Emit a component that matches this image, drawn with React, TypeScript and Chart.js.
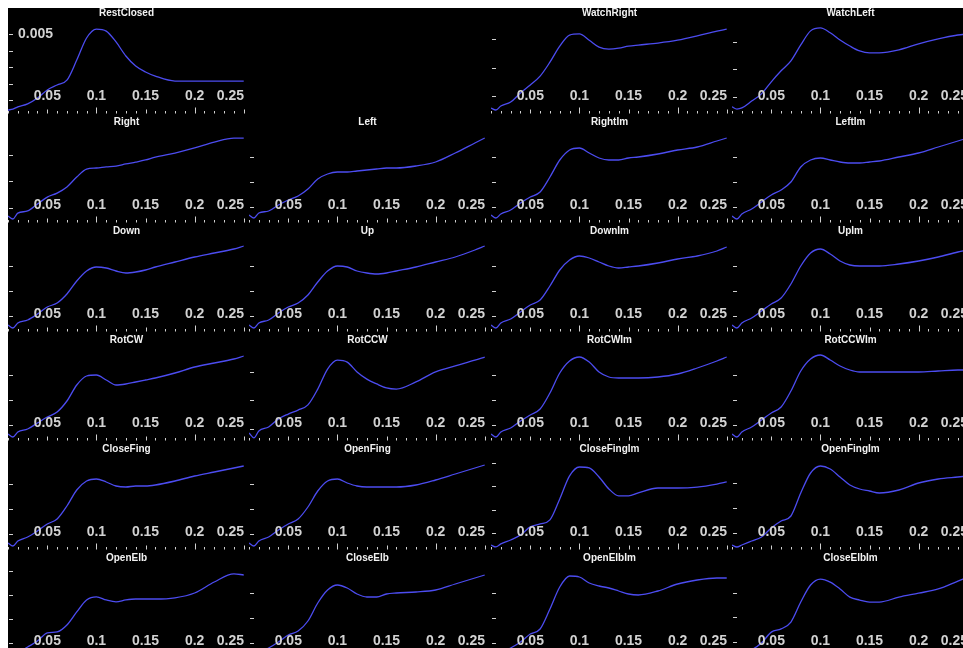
import { useEffect, useRef } from 'react';
import { Chart, registerables } from 'chart.js';

Chart.register(...registerables);

// Frequency samples shared by every spectrum
const FREQ = [0.01, 0.015, 0.02, 0.03, 0.04, 0.05, 0.06, 0.07, 0.08, 0.09, 0.1, 0.11, 0.12, 0.13, 0.14, 0.15, 0.16, 0.18, 0.2, 0.22, 0.24, 0.25];

// Power values, in units of 1e-3
const restClosed = [0.39, 0.45, 0.58, 0.76, 1.12, 1.61, 1.91, 2.2, 3.42, 4.76, 5.3, 5.18, 4.52, 3.67, 3.06, 2.7, 2.45, 2.15, 2.15, 2.15, 2.15, 2.15];
const watchRight = [0.58, 0.51, 0.65, 0.79, 1.11, 1.39, 1.7, 2.19, 2.75, 3.14, 3.18, 2.96, 2.72, 2.65, 2.68, 2.75, 2.79, 2.86, 2.96, 3.11, 3.28, 3.35];
const watchLeft = [0.64, 0.56, 0.6, 0.85, 1.11, 1.55, 1.95, 2.31, 2.89, 3.4, 3.51, 3.33, 3.07, 2.85, 2.67, 2.6, 2.6, 2.71, 2.93, 3.11, 3.25, 3.29];
const right = [0.7, 0.59, 0.81, 0.89, 1.15, 1.41, 1.56, 1.79, 2.16, 2.46, 2.5, 2.54, 2.57, 2.65, 2.72, 2.8, 2.91, 3.06, 3.25, 3.47, 3.62, 3.62];
const left = [0.68, 0.56, 0.76, 0.84, 1.08, 1.28, 1.44, 1.72, 2.12, 2.32, 2.4, 2.4, 2.44, 2.48, 2.52, 2.56, 2.56, 2.64, 2.8, 3.16, 3.56, 3.76];
const rightIm = [0.68, 0.56, 0.72, 0.88, 1.16, 1.4, 1.6, 2.2, 2.88, 3.28, 3.36, 3.16, 2.96, 2.88, 2.88, 2.96, 3.0, 3.12, 3.28, 3.4, 3.64, 3.76];
const leftIm = [0.64, 0.52, 0.72, 0.92, 1.2, 1.48, 1.68, 2.0, 2.6, 2.88, 2.96, 2.88, 2.8, 2.76, 2.76, 2.8, 2.84, 3.0, 3.16, 3.4, 3.64, 3.76];
const down = [0.64, 0.52, 0.72, 0.84, 1.08, 1.36, 1.52, 1.88, 2.4, 2.8, 2.96, 2.92, 2.8, 2.72, 2.76, 2.84, 2.96, 3.16, 3.36, 3.52, 3.68, 3.8];
const up = [0.64, 0.52, 0.72, 0.84, 1.12, 1.36, 1.52, 1.84, 2.36, 2.8, 3.0, 2.96, 2.8, 2.72, 2.68, 2.72, 2.8, 2.96, 3.16, 3.36, 3.64, 3.8];
const downIm = [0.64, 0.52, 0.72, 0.88, 1.16, 1.44, 1.64, 2.2, 2.84, 3.24, 3.4, 3.32, 3.16, 3.0, 2.92, 2.96, 3.0, 3.12, 3.28, 3.4, 3.6, 3.76];
const upIm = [0.64, 0.52, 0.72, 0.92, 1.2, 1.48, 1.72, 2.28, 3.0, 3.52, 3.68, 3.48, 3.2, 3.04, 3.0, 3.0, 3.0, 3.08, 3.2, 3.36, 3.56, 3.64];
const rotCW = [0.64, 0.52, 0.72, 0.84, 1.08, 1.32, 1.52, 1.96, 2.6, 2.96, 3.0, 2.8, 2.6, 2.64, 2.72, 2.8, 2.88, 3.08, 3.32, 3.48, 3.64, 3.76];
const rotCCW = [0.86, 0.69, 0.93, 1.07, 1.35, 1.52, 1.66, 1.84, 2.39, 3.09, 3.4, 3.33, 2.99, 2.74, 2.57, 2.43, 2.39, 2.64, 2.99, 3.2, 3.4, 3.51];
const rotCWIm = [0.64, 0.52, 0.72, 0.88, 1.16, 1.4, 1.64, 2.28, 3.08, 3.56, 3.72, 3.52, 3.12, 2.92, 2.88, 2.88, 2.88, 2.92, 3.04, 3.28, 3.56, 3.72];
const rotCCWIm = [0.64, 0.52, 0.72, 0.92, 1.2, 1.48, 1.72, 2.36, 3.16, 3.64, 3.8, 3.6, 3.36, 3.2, 3.12, 3.12, 3.12, 3.12, 3.12, 3.16, 3.2, 3.2];
const closeFing = [0.64, 0.52, 0.72, 0.88, 1.12, 1.4, 1.6, 2.12, 2.76, 3.12, 3.2, 3.08, 2.92, 2.88, 2.92, 2.92, 2.96, 3.12, 3.32, 3.48, 3.64, 3.72];
const openFing = [0.64, 0.52, 0.72, 0.88, 1.16, 1.4, 1.6, 2.08, 2.72, 3.12, 3.2, 3.04, 2.92, 2.88, 2.88, 2.88, 2.88, 2.96, 3.16, 3.4, 3.64, 3.76];
const closeFingIm = [0.48, 0.4, 0.53, 0.7, 0.91, 1.26, 1.39, 1.56, 2.46, 3.45, 3.83, 3.79, 3.4, 2.89, 2.59, 2.59, 2.72, 2.93, 2.93, 2.97, 3.1, 3.19];
const openFingIm = [0.52, 0.44, 0.52, 0.68, 0.84, 1.2, 1.48, 1.68, 2.6, 3.4, 3.68, 3.56, 3.24, 2.92, 2.76, 2.68, 2.6, 2.72, 3.0, 3.16, 3.24, 3.28];
const openElb = [0.54, 0.46, 0.58, 0.83, 1.08, 1.42, 1.46, 1.75, 2.29, 2.79, 2.92, 2.79, 2.71, 2.79, 2.83, 2.83, 2.83, 2.88, 3.08, 3.54, 3.88, 3.83];
const closeElb = [0.56, 0.48, 0.6, 0.8, 1.04, 1.32, 1.48, 1.88, 2.6, 3.12, 3.32, 3.2, 2.96, 2.84, 2.84, 2.96, 3.0, 3.04, 3.12, 3.36, 3.6, 3.72];
const openElbIm = [0.56, 0.48, 0.6, 0.8, 1.04, 1.36, 1.56, 2.36, 3.24, 3.68, 3.64, 3.4, 3.28, 3.2, 3.08, 2.96, 2.92, 3.08, 3.36, 3.52, 3.6, 3.6];
const closeElbIm = [0.51, 0.43, 0.51, 0.68, 0.96, 1.4, 1.53, 1.81, 2.62, 3.31, 3.55, 3.43, 3.15, 2.82, 2.7, 2.62, 2.62, 2.82, 2.98, 3.15, 3.47, 3.63];

// Labelled frequency ticks
const X_LABELS = [0.05, 0.1, 0.15, 0.2, 0.25];
const X_MIN = 0.01;
const X_MAX = 0.2513;

type PanelDef = { title: string; values: number[]; yMin: number; yMax: number; yLabel?: boolean } | null;

// Grid of spectra, row by row; one slot is left empty
const PANELS: PanelDef[] = [
  { title: 'RestClosed', values: restClosed, yMin: 0.15, yMax: 5.61, yLabel: true },
  null,
  { title: 'WatchRight', values: watchRight, yMin: 0.37, yMax: 3.53 },
  { title: 'WatchLeft', values: watchLeft, yMin: 0.38, yMax: 3.65 },
  { title: 'Right', values: right, yMin: 0.44, yMax: 3.81 },
  { title: 'Left', values: left, yMin: 0.36, yMax: 3.96 },
  { title: 'RightIm', values: rightIm, yMin: 0.36, yMax: 3.96 },
  { title: 'LeftIm', values: leftIm, yMin: 0.36, yMax: 3.96 },
  { title: 'Down', values: down, yMin: 0.36, yMax: 3.96 },
  { title: 'Up', values: up, yMin: 0.36, yMax: 3.96 },
  { title: 'DownIm', values: downIm, yMin: 0.36, yMax: 3.96 },
  { title: 'UpIm', values: upIm, yMin: 0.36, yMax: 3.96 },
  { title: 'RotCW', values: rotCW, yMin: 0.36, yMax: 3.96 },
  { title: 'RotCCW', values: rotCCW, yMin: 0.58, yMax: 3.72 },
  { title: 'RotCWIm', values: rotCWIm, yMin: 0.36, yMax: 3.96 },
  { title: 'RotCCWIm', values: rotCCWIm, yMin: 0.36, yMax: 3.96 },
  { title: 'CloseFing', values: closeFing, yMin: 0.36, yMax: 3.96 },
  { title: 'OpenFing', values: openFing, yMin: 0.36, yMax: 3.96 },
  { title: 'CloseFingIm', values: closeFingIm, yMin: 0.27, yMax: 4.13 },
  { title: 'OpenFingIm', values: openFingIm, yMin: 0.32, yMax: 3.92 },
  { title: 'OpenElb', values: openElb, yMin: 0.33, yMax: 4.08 },
  { title: 'CloseElb', values: closeElb, yMin: 0.36, yMax: 3.96 },
  { title: 'OpenElbIm', values: openElbIm, yMin: 0.36, yMax: 3.96 },
  { title: 'CloseElbIm', values: closeElbIm, yMin: 0.31, yMax: 3.96 },
];

const COLS = 4;
const CELL_W = 241.33;
const CELL_H = 109;
const CANVAS_W = 241;
const CANVAS_H = 109;

const LINE_COLOR = '#4c4cf0';
const TICK_COLOR = '#d0d0d0';
const LABEL_COLOR = '#d2d2d2';
const TITLE_COLOR = '#f2f2f2';

// Draws the axis ticks, frequency labels and panel title on top of the curve
const panelDecor = {
  id: 'panelDecor',
  afterDatasetsDraw(chart: any, _args: any, opts: any) {
    const { ctx, chartArea: a, scales } = chart;
    const xs = scales.x;
    const ys = scales.y;
    ctx.save();
    ctx.strokeStyle = TICK_COLOR;
    ctx.lineWidth = 1;

    // y ticks every 1e-3
    for (let v = Math.ceil(ys.min); v <= ys.max; v++) {
      const py = Math.round(ys.getPixelForValue(v)) + 0.5;
      ctx.beginPath();
      ctx.moveTo(a.left + 1, py);
      ctx.lineTo(a.left + 5, py);
      ctx.stroke();
    }

    // x ticks every 0.01, longer at 0.05 and 0.1
    const base = a.bottom - 0.5;
    for (let k = 1; k <= 25; k++) {
      const px = Math.round(xs.getPixelForValue(k / 100)) + 0.5;
      const len = k % 10 === 0 ? 6 : k % 5 === 0 ? 4 : 2.5;
      ctx.beginPath();
      ctx.moveTo(px, base);
      ctx.lineTo(px, base - len);
      ctx.stroke();
    }

    // frequency labels, drawn inside the plot
    ctx.font = 'bold 14px "Liberation Sans", Arial, sans-serif';
    ctx.fillStyle = LABEL_COLOR;
    ctx.textBaseline = 'middle';
    ctx.textAlign = 'left';
    const ly = a.bottom - 18.3;
    X_LABELS.forEach((v) => {
      const text = String(v);
      const w = ctx.measureText(text).width;
      let lx = xs.getPixelForValue(v) - w / 2;
      if (lx + w > a.right - 1) lx = a.right - 1 - w;
      ctx.fillText(text, lx, ly);
    });

    if (opts && opts.yLabel) {
      const top = Math.floor(ys.max);
      ctx.fillText((top / 1000).toFixed(3), a.left + 10, ys.getPixelForValue(top));
    }

    // title
    ctx.font = 'bold 10px "Liberation Sans", Arial, sans-serif';
    ctx.fillStyle = TITLE_COLOR;
    ctx.textAlign = 'center';
    ctx.fillText(opts.title, (a.left + a.right) / 2, 5.5);
    ctx.restore();
  },
};

function Panel({ def, left, top }: { def: NonNullable<PanelDef>; left: number; top: number }) {
  const ref = useRef<HTMLCanvasElement | null>(null);

  useEffect(() => {
    if (!ref.current) return;
    const chart = new Chart(ref.current, {
      type: 'line',
      data: {
        datasets: [
          {
            data: FREQ.map((f, i) => ({ x: f, y: def.values[i] })),
            borderColor: LINE_COLOR,
            borderWidth: 1.3,
            pointRadius: 0,
            cubicInterpolationMode: 'monotone',
            fill: false,
          },
        ],
      },
      options: {
        responsive: false,
        devicePixelRatio: 1,
        animation: false,
        events: [],
        layout: { padding: { left: 0, right: 4, top: 16, bottom: 3 } },
        scales: {
          x: { type: 'linear', min: X_MIN, max: X_MAX, display: false },
          y: { type: 'linear', min: def.yMin, max: def.yMax, display: false },
        },
        plugins: {
          legend: { display: false },
          tooltip: { enabled: false },
          panelDecor: { title: def.title, yLabel: !!def.yLabel },
        } as any,
      },
      plugins: [panelDecor],
    });
    return () => chart.destroy();
  }, [def]);

  return (
    <canvas
      ref={ref}
      width={CANVAS_W}
      height={CANVAS_H}
      style={{ position: 'absolute', left, top, width: CANVAS_W, height: CANVAS_H }}
    />
  );
}

export default function App() {
  useEffect(() => {
    document.documentElement.style.overflow = 'hidden';
    document.body.style.overflow = 'hidden';
  }, []);

  return (
    <div
      style={{
        position: 'absolute',
        left: 8,
        top: 8,
        width: 955,
        height: 640,
        background: '#000',
        overflow: 'hidden',
      }}
    >
      {PANELS.map((def, i) =>
        def ? (
          <Panel
            key={def.title}
            def={def}
            left={Math.round((i % COLS) * CELL_W)}
            top={Math.floor(i / COLS) * CELL_H}
          />
        ) : null
      )}
    </div>
  );
}
